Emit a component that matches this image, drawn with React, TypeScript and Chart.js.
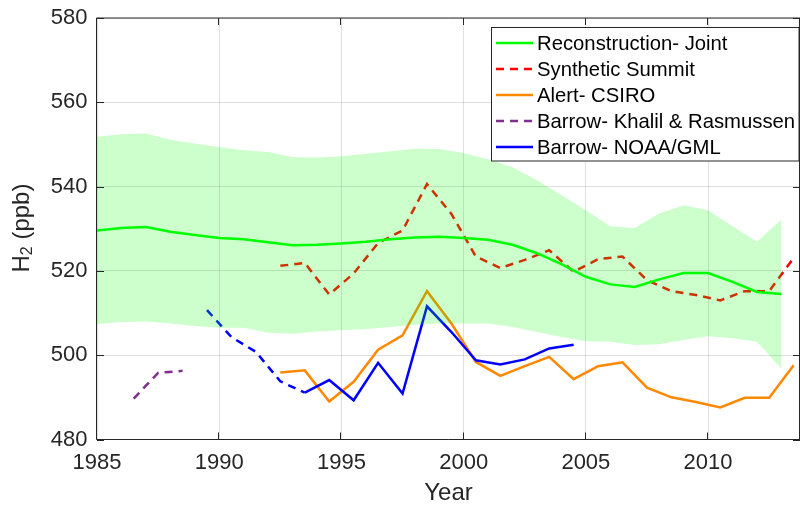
import { useEffect, useRef } from 'react';
import { Chart, registerables } from 'chart.js';

Chart.register(...registerables);

// ---------------- data ----------------
const reconYears = [1985, 1986, 1987, 1988, 1989, 1990, 1991, 1992, 1993, 1994, 1995, 1996, 1997, 1998, 1999, 2000, 2001, 2002, 2003, 2004, 2005, 2006, 2007, 2008, 2009, 2010, 2011, 2012, 2013];
const reconJoint = [529.6, 530.2, 530.4, 529.3, 528.5, 527.8, 527.5, 526.8, 526.1, 526.2, 526.5, 526.9, 527.5, 527.9, 528.1, 527.8, 527.4, 526.2, 524.2, 521.6, 518.6, 516.8, 516.2, 518.0, 519.5, 519.5, 517.4, 515.0, 514.5];
const reconUpper = [551.8, 552.4, 552.6, 551.1, 550.2, 549.4, 548.6, 548.2, 547.0, 546.9, 547.2, 547.8, 548.4, 549.0, 548.9, 548.0, 546.5, 544.6, 541.5, 538.0, 534.4, 530.6, 530.2, 533.6, 535.6, 534.4, 530.6, 526.9, 532.2];
const reconLower = [507.4, 507.9, 508.0, 507.5, 506.9, 506.5, 506.5, 505.3, 505.1, 505.6, 505.9, 506.2, 506.7, 507.2, 507.5, 507.5, 507.5, 506.7, 505.5, 504.3, 503.3, 503.2, 502.4, 502.6, 503.6, 504.5, 504.0, 503.2, 496.8];

const summitYears = [1992.5, 1993.5, 1994.5, 1995.5, 1996.5, 1997.5, 1998.5, 1999.5, 2000.5, 2001.5, 2002.5, 2003.5, 2004.5, 2005.5, 2006.5, 2007.5, 2008.5, 2009.5, 2010.5, 2011.5, 2012.5, 2013.5];
const summitValues = [521.2, 521.9, 514.4, 519.4, 526.6, 529.6, 540.6, 533.5, 523.4, 520.7, 522.6, 524.9, 519.8, 522.8, 523.4, 517.8, 515.2, 514.3, 513.0, 515.2, 515.2, 523.1];

const alertYears = [1992.5, 1993.5, 1994.5, 1995.5, 1996.5, 1997.5, 1998.5, 1999.5, 2000.5, 2001.5, 2002.5, 2003.5, 2004.5, 2005.5, 2006.5, 2007.5, 2008.5, 2009.5, 2010.5, 2011.5, 2012.5, 2013.5];
const alertValues = [495.9, 496.4, 489.0, 493.7, 501.3, 504.7, 515.2, 507.5, 498.4, 495.1, 497.4, 499.6, 494.3, 497.4, 498.3, 492.3, 490.0, 488.9, 487.6, 489.9, 489.9, 497.6];

const khalilYears = [1986.5, 1987.5, 1988.5];
const khalilValues = [489.7, 495.8, 496.3];

const noaaEarlyYears = [1989.5, 1990.5, 1991.5, 1992.5, 1993.5];
const noaaEarlyValues = [510.7, 504.3, 500.8, 493.8, 491.1];
const noaaYears = [1993.5, 1994.5, 1995.5, 1996.5, 1997.5, 1998.5, 1999.5, 2000.5, 2001.5, 2002.5, 2003.5, 2004.5];
const noaaValues = [491.1, 494.1, 489.3, 498.2, 490.9, 511.6, 505.5, 498.8, 497.8, 499.0, 501.6, 502.5];

const xTicks = [1985, 1990, 1995, 2000, 2005, 2010];
const yTicks = [480, 500, 520, 540, 560, 580];

const legendLabels = ['Reconstruction- Joint', 'Synthetic Summit', 'Alert- CSIRO', 'Barrow- Khalil & Rasmussen', 'Barrow- NOAA/GML'];
const legendColors = ['#00ff00', '#ff0000', '#ff8800', '#7e2f8e', '#0000ff'];
const legendDashed = [false, true, false, true, false];

// ---------------- styles ----------------
const FONT = '"Liberation Sans", Arial, Helvetica, sans-serif';
const AXIS = '#262626';
const GRID = 'rgba(38,38,38,0.15)';
const DASH = [8, 6];

const pts = (xs: number[], ys: number[]) => xs.map((x, i) => ({ x, y: ys[i] }));

const overlayPlugin = {
  id: 'overlay',
  afterDatasetsDraw(chart: any) {
    const { ctx, chartArea, scales } = chart;
    const { left, right, top, bottom } = chartArea;
    const xs = scales.x;
    const ys = scales.y;
    ctx.save();
    // axes box
    ctx.strokeStyle = AXIS;
    ctx.lineWidth = 1;
    ctx.beginPath();
    ctx.moveTo(left - 0.5, top);
    ctx.lineTo(right, top);
    ctx.moveTo(right - 0.5, top);
    ctx.lineTo(right - 0.5, bottom);
    ctx.stroke();
    ctx.beginPath();
    ctx.moveTo(left - 0.5, top);
    ctx.lineTo(left - 0.5, bottom);
    ctx.lineTo(right, bottom);
    ctx.stroke();
    // inward ticks
    ctx.beginPath();
    const tl = 7;
    xTicks.forEach((v) => {
      const px = Math.round(xs.getPixelForValue(v)) - 0.5;
      ctx.moveTo(px, bottom);
      ctx.lineTo(px, bottom - tl);
      ctx.moveTo(px, top);
      ctx.lineTo(px, top + tl);
    });
    yTicks.forEach((v) => {
      const py = Math.round(ys.getPixelForValue(v)) + 0.5;
      ctx.moveTo(left, py);
      ctx.lineTo(left + tl, py);
      ctx.moveTo(right, py);
      ctx.lineTo(right - tl, py);
    });
    ctx.stroke();

    // legend
    const bx = 491.5, by = 27.5, bw = 307.5, bh = 133.5;
    ctx.fillStyle = '#ffffff';
    ctx.fillRect(bx, by, bw, bh);
    ctx.strokeStyle = AXIS;
    ctx.lineWidth = 1;
    ctx.strokeRect(bx, by, bw, bh);
    ctx.font = `20.3px ${FONT}`;
    ctx.textBaseline = 'middle';
    ctx.textAlign = 'left';
    legendLabels.forEach((label, i) => {
      const cy = 43 + i * 26;
      ctx.beginPath();
      ctx.strokeStyle = legendColors[i];
      ctx.lineWidth = 2.5;
      ctx.setLineDash(legendDashed[i] ? DASH : []);
      ctx.moveTo(496, cy);
      ctx.lineTo(533, cy);
      ctx.stroke();
      ctx.setLineDash([]);
      ctx.fillStyle = '#000000';
      ctx.fillText(label, 537, cy + 1);
    });

    // y axis title H2 (ppb)
    ctx.save();
    ctx.translate(29, 228);
    ctx.rotate(-Math.PI / 2);
    ctx.fillStyle = AXIS;
    ctx.textBaseline = 'alphabetic';
    ctx.textAlign = 'left';
    ctx.font = `24px ${FONT}`;
    const wH = ctx.measureText('H').width;
    ctx.font = `16px ${FONT}`;
    const w2 = ctx.measureText('2').width;
    ctx.font = `24px ${FONT}`;
    const wRest = ctx.measureText(' (ppb)').width;
    let x0 = -(wH + w2 + wRest) / 2;
    ctx.fillText('H', x0, 0);
    x0 += wH;
    ctx.font = `16px ${FONT}`;
    ctx.fillText('2', x0, 3);
    x0 += w2;
    ctx.font = `24px ${FONT}`;
    ctx.fillText(' (ppb)', x0, 0);
    ctx.restore();

    ctx.restore();
  },
};

export default function App() {
  const ref = useRef<HTMLCanvasElement | null>(null);

  useEffect(() => {
    if (!ref.current) return;
    const lineBase = {
      type: 'line' as const,
      pointRadius: 0,
      pointHoverRadius: 0,
      tension: 0,
      fill: false,
      borderWidth: 2.5,
    };
    const chart = new Chart(ref.current, {
      type: 'line',
      data: {
        datasets: [
          {
            ...lineBase,
            label: 'band upper',
            data: pts(reconYears, reconUpper),
            borderWidth: 0,
            borderColor: 'rgba(0,0,0,0)',
            backgroundColor: 'rgba(0,255,0,0.2)',
            fill: '+1',
            order: 0,
          },
          {
            ...lineBase,
            label: 'band lower',
            data: pts(reconYears, reconLower),
            borderWidth: 0,
            borderColor: 'rgba(0,0,0,0)',
            order: 0,
          },
          {
            ...lineBase,
            label: legendLabels[0],
            data: pts(reconYears, reconJoint),
            borderColor: legendColors[0],
            order: 1,
          },
          {
            ...lineBase,
            label: legendLabels[1],
            data: pts(summitYears, summitValues),
            borderColor: legendColors[1],
            borderDash: DASH,
            order: 2,
          },
          {
            ...lineBase,
            label: legendLabels[2],
            data: pts(alertYears, alertValues),
            borderColor: legendColors[2],
            order: 4,
          },
          {
            ...lineBase,
            label: legendLabels[3],
            data: pts(khalilYears, khalilValues),
            borderColor: legendColors[3],
            borderDash: DASH,
            order: 5,
          },
          {
            ...lineBase,
            label: 'Barrow early',
            data: pts(noaaEarlyYears, noaaEarlyValues),
            borderColor: legendColors[4],
            borderDash: DASH,
            order: 3,
          },
          {
            ...lineBase,
            label: legendLabels[4],
            data: pts(noaaYears, noaaValues),
            borderColor: legendColors[4],
            order: 3,
          },
        ],
      },
      options: {
        animation: false,
        responsive: false,
        devicePixelRatio: 1,
        events: [],
        layout: { padding: { top: 18, right: 0, left: 0, bottom: 0 } },
        plugins: {
          legend: { display: false },
          tooltip: { enabled: false },
          title: { display: false },
        },
        scales: {
          x: {
            type: 'linear',
            min: 1985,
            max: 2013.76,
            afterBuildTicks: (s: any) => {
              s.ticks = xTicks.map((v) => ({ value: v }));
            },
            afterFit: (s: any) => {
              s.height = 66.5;
              s.paddingLeft = 0;
              s.paddingRight = 0;
              s.paddingTop = 0;
              s.paddingBottom = 0;
            },
            grid: { color: GRID, drawTicks: false },
            border: { display: false },
            ticks: {
              font: { size: 22, family: FONT },
              color: AXIS,
              padding: 10,
              maxRotation: 0,
              autoSkip: false,
              callback: (v: any) => String(v),
            },
            title: {
              display: true,
              text: 'Year',
              font: { size: 24, family: FONT, lineHeight: 1.05 },
              color: AXIS,
              padding: 0,
            },
          },
          y: {
            type: 'linear',
            min: 480,
            max: 580,
            afterBuildTicks: (s: any) => {
              s.ticks = yTicks.map((v) => ({ value: v }));
            },
            afterFit: (s: any) => {
              s.width = 97;
              s.paddingLeft = 0;
              s.paddingRight = 0;
              s.paddingTop = 0;
              s.paddingBottom = 0;
            },
            grid: { color: GRID, drawTicks: false },
            border: { display: false },
            ticks: {
              font: { size: 22, family: FONT },
              color: AXIS,
              padding: 9.5,
              autoSkip: false,
              callback: (v: any) => String(v),
            },
          },
        },
      },
      plugins: [overlayPlugin],
    } as any);
    return () => chart.destroy();
  }, []);

  return (
    <div style={{ position: 'absolute', left: 0, top: 0, width: 800, height: 506, background: '#fff' }}>
      <canvas ref={ref} width={800} height={506} style={{ display: 'block', width: 800, height: 506 }} />
    </div>
  );
}
